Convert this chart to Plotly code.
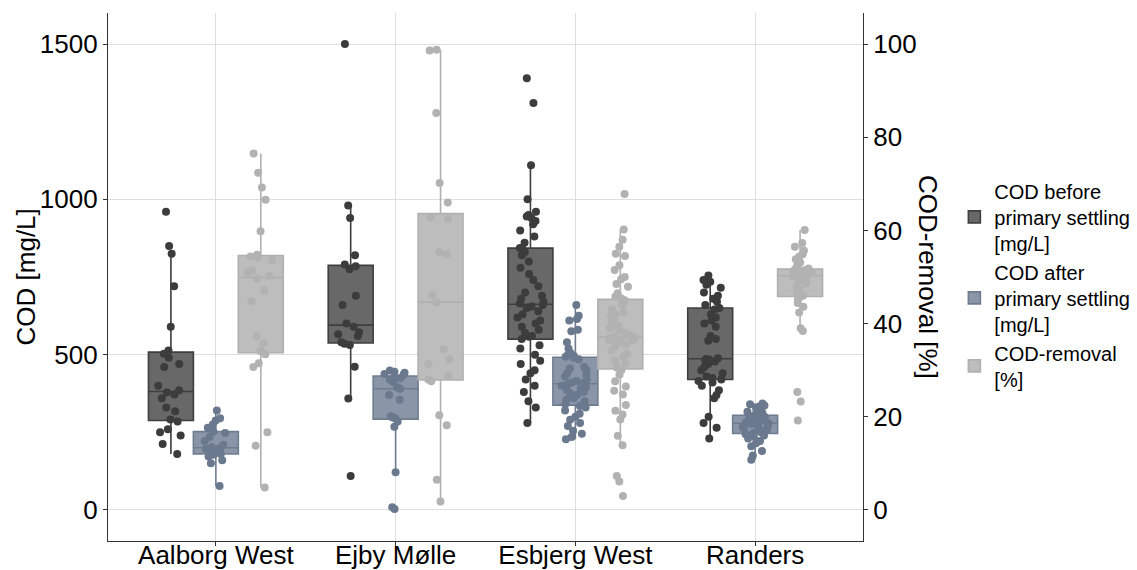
import plotly.graph_objects as go

plants = ["Aalborg West", "Ejby Mølle", "Esbjerg West", "Randers"]

# COD before primary settling [mg/L]
before_aalborg = [960, 850, 825, 720, 590, 513, 503, 490, 470, 460, 400, 385, 378, 372,
                  360, 330, 318, 291, 285, 260, 250, 240, 212, 180]
before_ejby = [1500, 980, 940, 820, 790, 785, 775, 690, 660, 600, 590, 572, 566, 560,
               540, 535, 531, 461, 359, 109]
before_esbjerg = [280, 330, 350, 380, 400, 420, 440, 450, 470, 480, 500, 520, 530, 550,
                  558, 560, 570, 580, 590, 600, 610, 620, 630, 640, 650, 655, 660, 665,
                  670, 680, 690, 700, 720, 740, 760, 780, 800, 820, 830, 840, 843, 860,
                  880, 900, 920, 930, 940, 945, 950, 960, 1000, 1110, 1310, 1390]
before_randers = [755, 740, 735, 725, 715, 700, 690, 680, 670, 660, 650, 645, 630, 620,
                  610, 600, 590, 560, 550, 545, 488, 486, 484, 482, 478, 470, 460, 450,
                  440, 430, 425, 420, 415, 410, 400, 385, 370, 360, 300, 280, 265, 230]

# COD after primary settling [mg/L]
after_aalborg = [77, 150, 160, 172, 178, 180, 183, 188, 192, 196, 198, 202, 210, 222,
                 235, 248, 252, 265, 275, 288, 295, 320]
after_ejby = [3, 9, 121, 268, 285, 295, 298, 302, 355, 370, 390, 395, 412, 420, 425,
              430, 435, 438, 442, 445, 449]
after_esbjerg = [228, 235, 245, 255, 270, 280, 290, 300, 310, 320, 330, 335, 340, 350,
                 355, 360, 370, 375, 380, 385, 390, 395, 400, 405, 408, 410, 415, 420,
                 430, 435, 440, 450, 455, 460, 485, 490, 493, 496, 500, 505, 520, 540,
                 575, 580, 610, 615, 625, 660]
after_randers = [162, 175, 190, 205, 215, 222, 230, 236, 240, 244, 247, 250, 255, 258,
                 262, 265, 268, 271, 274, 277, 279, 281, 283, 285, 288, 290, 293, 296,
                 299, 302, 304, 308, 312, 316, 320, 325, 330, 333, 336, 340, 343]

# COD-removal [%]
removal_aalborg = [4.8, 13.8, 16.7, 30.7, 31.5, 33.4, 34.1, 35.8, 37.3, 44.8, 47.1, 49.6,
                   50.2, 51.0, 51.4, 53.6, 54.2, 54.4, 54.8, 59.8, 66.6, 69.2, 72.4, 76.5]
removal_ejby = [1.8, 6.5, 18.2, 20.3, 27.6, 28.0, 28.8, 31.3, 32.3, 34.5, 44.6, 46.2,
                54.9, 55.3, 62.4, 62.8, 66.0, 70.2, 85.2, 98.6, 98.8]
removal_esbjerg = [3.0, 6.1, 7.3, 13.9, 15.9, 19.4, 20.5, 21.3, 22.5, 24.8, 25.6, 26.5,
                   27.6, 29.0, 30.0, 30.5, 31.5, 32.0, 33.0, 33.5, 34.2, 35.0, 35.5, 35.8,
                   36.2, 36.4, 36.5, 36.8, 36.9, 37.0, 37.2, 37.5, 38.1, 38.5, 39.0, 39.5,
                   40.0, 40.5, 41.0, 41.5, 42.0, 42.4, 43.0, 44.0, 45.0, 45.4, 45.8, 46.5,
                   47.9, 48.5, 49.5, 50.0, 51.5, 52.5, 54.5, 55.0, 56.5, 58.0, 60.2, 67.8]
removal_randers = [19.2, 23.3, 25.3, 38.4, 39.0, 42.4, 43.6, 44.4, 45.2, 45.6, 46.0, 46.7,
                   47.5, 48.0, 48.7, 49.2, 49.5, 49.8, 50.0, 50.2, 50.4, 50.6, 50.8, 51.0,
                   51.1, 51.2, 51.3, 51.4, 51.5, 51.6, 51.8, 52.6, 53.1, 53.8, 54.4, 54.9,
                   55.7, 56.5, 57.3, 60.1]

FONT = "Liberation Sans, Arial, sans-serif"
AX_SIZE = 26


def stack(groups):
    xs, ys = [], []
    for plant, vals in zip(plants, groups):
        xs += [plant] * len(vals)
        ys += list(vals)
    return xs, ys


series = [
    dict(name="COD before<br>primary settling<br>[mg/L]",
         groups=[before_aalborg, before_ejby, before_esbjerg, before_randers],
         fill="#686868", line="#3e3e3e", point="#3c3c3c", yaxis="y", key="before"),
    dict(name="COD after<br>primary settling<br>[mg/L]",
         groups=[after_aalborg, after_ejby, after_esbjerg, after_randers],
         fill="#8a95a7", line="#6f7c90", point="#6b798e", yaxis="y", key="after"),
    dict(name="COD-removal<br>[%]",
         groups=[removal_aalborg, removal_ejby, removal_esbjerg, removal_randers],
         fill="#bdbdbd", line="#b0b0b0", point="#b2b2b2", yaxis="y2", key="removal"),
]

fig = go.Figure()
for s in series:
    xs, ys = stack(s["groups"])
    fig.add_trace(go.Box(
        x=xs, y=ys, name=s["name"], yaxis=s["yaxis"],
        alignmentgroup="plants", offsetgroup=s["key"],
        fillcolor=s["fill"], line=dict(color=s["line"], width=1.6),
        marker=dict(color=s["point"], size=8, opacity=1),
        boxpoints="all", jitter=0.65, pointpos=0, whiskerwidth=0,
        hoveron="points",
    ))

axis_line = "#333333"
grid = "#dedede"
common = dict(
    showline=True, linecolor=axis_line, linewidth=1.3,
    ticks="outside", ticklen=4, tickcolor=axis_line, tickwidth=1.2,
    tickfont=dict(family=FONT, size=AX_SIZE, color="black"),
    zeroline=False, automargin=False,
)

fig.update_layout(
    width=1137, height=570,
    margin=dict(l=108, r=274, t=13, b=29, autoexpand=False),
    paper_bgcolor="white", plot_bgcolor="white",
    boxmode="group", boxgap=0.25, boxgroupgap=0,
    font=dict(family=FONT, size=AX_SIZE, color="black"),
    xaxis=dict(
        categoryorder="array", categoryarray=plants,
        range=[-0.6, 3.6], showgrid=True, gridcolor=grid, gridwidth=1,
        ticklabelstandoff=-13,
        **common,
    ),
    yaxis=dict(
        range=[-100, 1600], tickvals=[0, 500, 1000, 1500],
        showgrid=True, gridcolor=grid, gridwidth=1,
        **common,
    ),
    yaxis2=dict(
        overlaying="y", side="right", anchor="x",
        range=[-100 / 15, 1600 / 15], tickvals=[0, 20, 40, 60, 80, 100],
        showgrid=False,
        **common,
    ),
    legend=dict(
        x=1.121, y=0.70, xanchor="left", yanchor="top",
        font=dict(family=FONT, size=20, color="black"),
        bgcolor="rgba(0,0,0,0)", itemclick=False,
    ),
    annotations=[
        dict(text="COD [mg/L]", xref="paper", yref="paper", x=-0.108, y=0.5,
             xanchor="center", yanchor="middle", textangle=-90, showarrow=False,
             font=dict(family=FONT, size=AX_SIZE, color="black")),
        dict(text="COD-removal [%]", xref="paper", yref="paper", x=1.086, y=0.5,
             xanchor="center", yanchor="middle", textangle=90, showarrow=False,
             font=dict(family=FONT, size=AX_SIZE, color="black")),
    ],
)

fig.write_html("out.html")
